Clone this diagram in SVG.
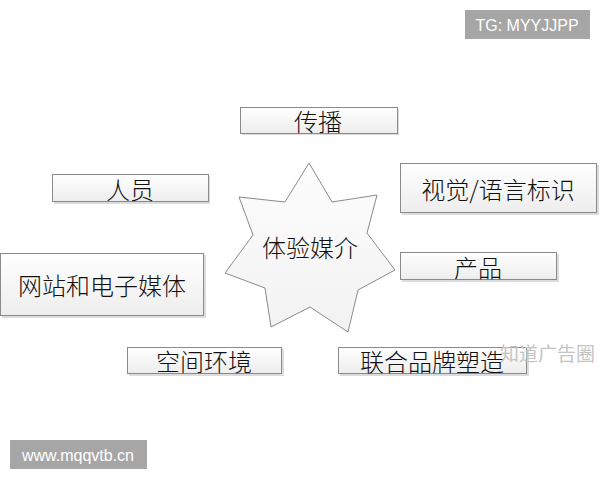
<svg xmlns="http://www.w3.org/2000/svg" width="600" height="480" viewBox="0 0 600 480">
<defs>
<linearGradient id="bg" x1="0" y1="0" x2="0" y2="1">
<stop offset="0" stop-color="#ffffff"/>
<stop offset="1" stop-color="#ededed"/>
</linearGradient>
<linearGradient id="sg" x1="0" y1="0" x2="0" y2="1">
<stop offset="0" stop-color="#fdfdfd"/>
<stop offset="1" stop-color="#f2f2f2"/>
</linearGradient>
</defs>
<style>
.box{fill:url(#bg);stroke:#8a8a8a;stroke-width:1}
.sh{fill:#dcdcdc}
.t{font-family:"Noto Sans CJK SC","Noto Sans",sans-serif;font-size:24px;font-weight:300;fill:#111111;text-anchor:middle;dominant-baseline:central}
.tag{fill:#a6a6a6}
.tt{font-family:"Liberation Sans",Arial,sans-serif;font-size:16px;fill:#ffffff;text-anchor:middle;dominant-baseline:central}
.wm{font-family:"Noto Sans CJK SC",sans-serif;font-size:19px;fill:#c4c4c4;dominant-baseline:central}
</style>
<rect width="600" height="480" fill="#ffffff"/>
<g id="connectors"></g>
<g id="center">
<polygon points="309,163 332,202 377,195 367,233 395,270 358,290 348,332 310,307 271,327 265,288 225,273 253,235 239,197 285,202" fill="url(#sg)" stroke="#8a8a8a" stroke-width="1"/>
<text class="t" x="310" y="246">体验媒介</text>
</g>
<g id="n-chuanbo">
<rect class="sh" x="242" y="109" width="157" height="26"/>
<rect class="box" x="240.5" y="107.5" width="157" height="26"/>
<text class="t" x="318" y="120">传播</text>
</g>
<g id="n-renyuan">
<rect class="sh" x="54" y="176" width="156" height="28"/>
<rect class="box" x="52.5" y="174.5" width="156" height="27"/>
<text class="t" x="130" y="188">人员</text>
</g>
<g id="n-shijue">
<rect class="sh" x="402" y="165" width="197" height="50"/>
<rect class="box" x="400.5" y="163.5" width="196" height="49"/>
<text class="t" x="498" y="188">视觉/语言标识</text>
</g>
<g id="n-wangzhan">
<rect class="sh" x="2" y="255" width="204" height="63"/>
<rect class="box" x="0.5" y="253.5" width="203" height="62"/>
<text class="t" x="102" y="284">网站和电子媒体</text>
</g>
<g id="n-chanpin">
<rect class="sh" x="402" y="254" width="157" height="28"/>
<rect class="box" x="400.5" y="252.5" width="156" height="27"/>
<text class="t" x="478" y="266">产品</text>
</g>
<g id="n-kongjian">
<rect class="sh" x="129" y="349" width="155" height="27"/>
<rect class="box" x="127.5" y="347.5" width="154" height="26"/>
<text class="t" x="204" y="360">空间环境</text>
</g>
<g id="n-lianhe">
<rect class="sh" x="340" y="349" width="189" height="27"/>
<rect class="box" x="338.5" y="347.5" width="188" height="26"/>
<text class="t" x="432" y="360">联合品牌塑造</text>
</g>
<text class="wm" x="500" y="352">知道广告圈</text>
<g id="tag-tg">
<rect class="tag" x="465" y="10" width="125" height="29"/>
<text class="tt" x="527" y="25">TG: MYYJJPP</text>
</g>
<g id="tag-www">
<rect class="tag" x="10" y="440" width="137" height="29"/>
<text class="tt" x="78" y="455">www.mqqvtb.cn</text>
</g>
</svg>
